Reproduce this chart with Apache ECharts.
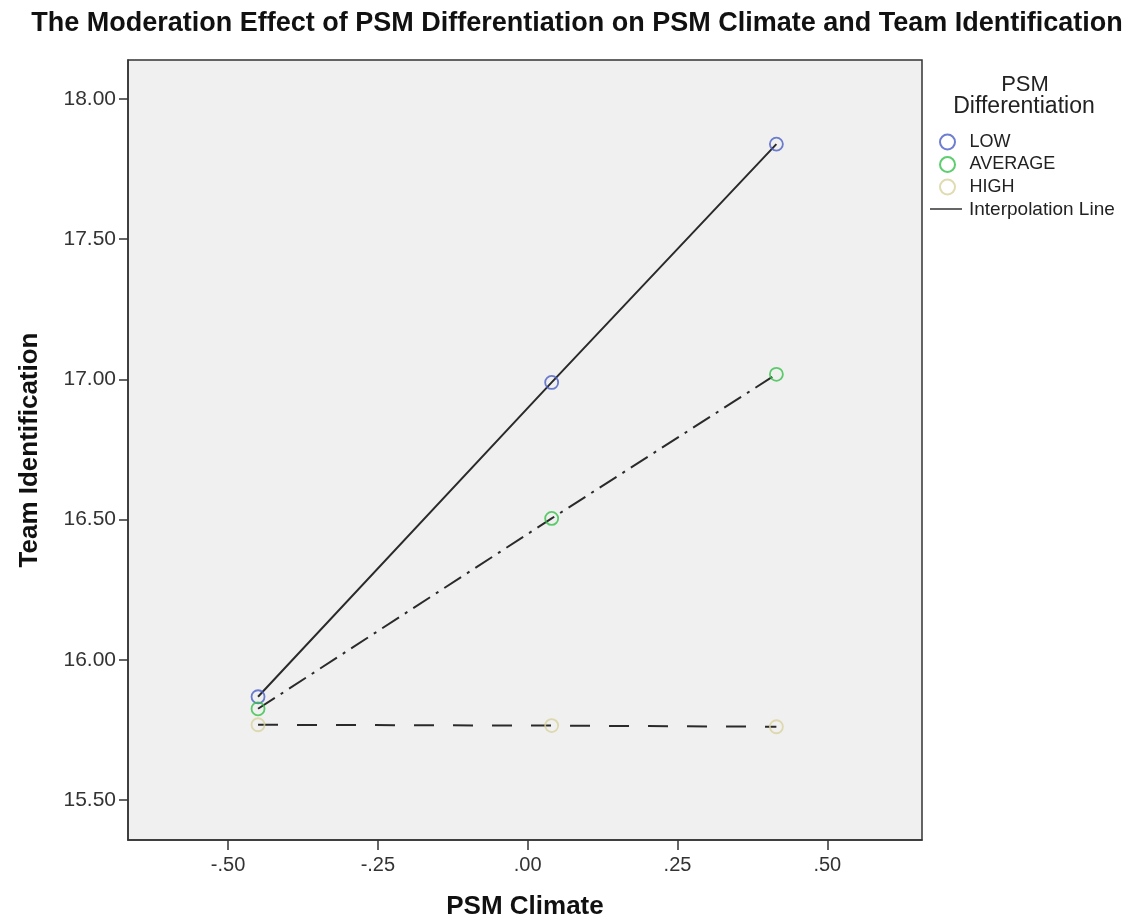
<!DOCTYPE html>
<html><head><meta charset="utf-8">
<script src="https://cdn.jsdelivr.net/npm/echarts@6/dist/echarts.min.js"></script>
<style>html,body{margin:0;padding:0;background:#fff}#c{width:1141px;height:922px}</style>
</head><body><div id="c"></div>
<script>
const xValues = [-0.45, 0.04, 0.415];
const lowVals = [15.868, 16.989, 17.839];
const avgVals = [15.825, 16.504, 17.018];
const highVals = [15.768, 15.765, 15.761];
const groups = ['LOW', 'AVERAGE', 'HIGH'];
const xTicks = [-0.5, -0.25, 0, 0.25, 0.5];
const yTicks = [15.5, 16.0, 16.5, 17.0, 17.5, 18.0];

const colors = ['#4a5ec6', '#36c04a', '#d8d29e'];
const dashes = ['solid', [20, 7, 3, 7], [20, 19]];
const valsArr = [lowVals, avgVals, highVals];

function fmtX(v){ const s = Math.abs(v).toFixed(2).replace(/^0/, ''); return (v < 0 ? '-' : '') + s; }

const series = [];
groups.forEach((g, i) => {
  const d = xValues.map((x, j) => [x, valsArr[i][j]]);
  series.push({
    type: 'line', name: g + ' line', data: d, symbol: 'none', z: 2,
    lineStyle: { color: '#2a2a2a', width: 2, type: dashes[i] }, silent: true
  });
});
groups.forEach((g, i) => {
  const d = xValues.map((x, j) => [x, valsArr[i][j]]);
  series.push({
    type: 'scatter', name: g, data: d, symbol: 'circle', symbolSize: 13, z: 3,
    itemStyle: { color: 'rgba(0,0,0,0)', borderColor: colors[i], borderWidth: 1.8 }
  });
});

const chart = echarts.init(document.getElementById('c'), null, { renderer: 'canvas' });
chart.setOption({
  animation: false,
  backgroundColor: '#fff',
  title: {
    text: 'The Moderation Effect of PSM Differentiation on PSM Climate and Team Identification',
    left: 572, top: 5, textAlign: 'center',
    textStyle: { fontFamily: 'Liberation Sans', fontWeight: 'bold', fontSize: 27, color: '#111' }
  },
  grid: { left: 128, right: 219, top: 60, bottom: 82, containLabel: false, outerBoundsMode: 'none', show: true, backgroundColor: '#f0f0f0', borderColor: '#333', borderWidth: 1.5 },
  xAxis: {
    type: 'value', min: -0.667, max: 0.658,
    name: 'PSM Climate', nameLocation: 'middle', nameGap: 54,
    nameTextStyle: { fontFamily: 'Liberation Sans', fontWeight: 'bold', fontSize: 26, color: '#111' },
    axisLine: { show: true, onZero: false, lineStyle: { color: '#333', width: 1.5 } },
    axisTick: { show: true, length: 10, customValues: xTicks, lineStyle: { color: '#333', width: 1.5 } },
    axisLabel: { customValues: xTicks, formatter: fmtX, margin: 15, fontFamily: 'Liberation Sans', fontSize: 20, color: '#333' },
    splitLine: { show: false }
  },
  yAxis: {
    type: 'value', min: 15.357, max: 18.139,
    name: 'Team Identification', nameLocation: 'middle', nameGap: 85, nameRotate: 90,
    nameTextStyle: { fontFamily: 'Liberation Sans', fontWeight: 'bold', fontSize: 26, color: '#111' },
    axisLine: { show: true, onZero: false, lineStyle: { color: '#333', width: 1.5 } },
    axisTick: { show: true, length: 9, customValues: yTicks, lineStyle: { color: '#333', width: 1.5 } },
    axisLabel: { customValues: yTicks, formatter: v => v.toFixed(2), margin: 12, fontFamily: 'Liberation Sans', fontSize: 21, color: '#333' },
    splitLine: { show: false }
  },
  legend: {
    data: groups, orient: 'vertical', left: 934, top: 128, itemGap: 4.5,
    itemWidth: 30, itemHeight: 15, icon: 'circle',
    textStyle: { fontFamily: 'Liberation Sans', fontSize: 18, color: '#222', padding: [0, 0, 0, 2] },
    selectedMode: false
  },
  graphic: [
    { type: 'text', x: 1025, y: 85, style: { text: 'PSM', fontFamily: 'Liberation Sans', fontSize: 22, fill: '#222', align: 'center', verticalAlign: 'middle' } },
    { type: 'text', x: 1024, y: 107, style: { text: 'Differentiation', fontFamily: 'Liberation Sans', fontSize: 23, fill: '#222', align: 'center', verticalAlign: 'middle' } },
    { type: 'line', shape: { x1: 930, y1: 209, x2: 962, y2: 209 }, style: { stroke: '#333', lineWidth: 1.5 } },
    { type: 'text', x: 969, y: 210, style: { text: 'Interpolation Line', fontFamily: 'Liberation Sans', fontSize: 19, fill: '#222', verticalAlign: 'middle' } }
  ],
  series: series
});
</script></body></html>
